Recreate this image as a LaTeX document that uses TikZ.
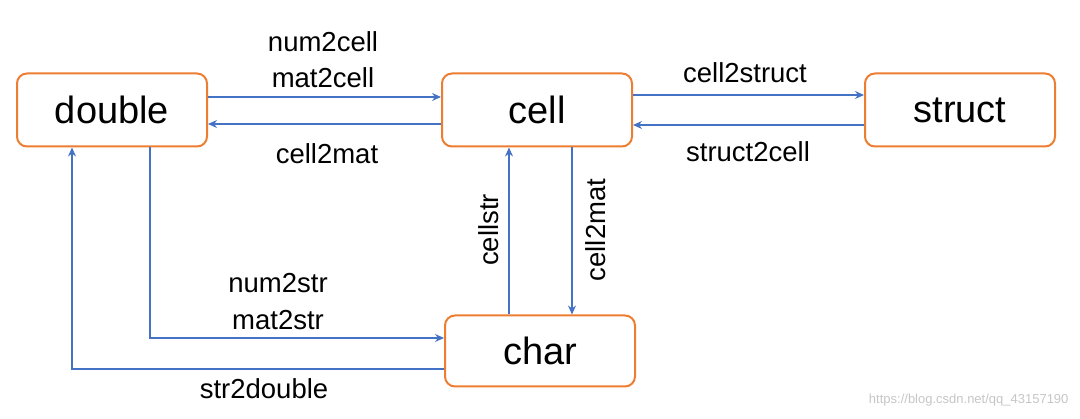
\documentclass[tikz,border=0pt]{standalone}
\usepackage{fontspec}
\setmainfont{Liberation Sans}
\usetikzlibrary{arrows.meta}
\definecolor{bor}{RGB}{237,125,49}
\definecolor{arr}{RGB}{68,114,196}
\begin{document}
\begin{tikzpicture}[x=1pt,y=-1pt,
 box/.style={draw=bor,line width=2pt,rounded corners=10pt,fill=white,minimum width=190pt,minimum height=73pt,font=\fontsize{38}{42}\selectfont},
 con/.style={draw=arr,line width=1.2pt,-{Stealth[length=9pt,width=8pt]}},
 lab/.style={font=\fontsize{27.5}{30}\selectfont}]
\useasboundingbox (0,0) rectangle (1080,419);
\node[box] (double) at (112,110) {double};
\node[box] (cell) at (537,110) {cell};
\node[box] (struct) at (960,110) {struct};
\node[box,minimum height=71pt] (char) at (540,351) {char};
\draw[con] (double.east |- 0,97) -- (cell.west |- 0,97);
\draw[con] (cell.west |- 0,124) -- (double.east |- 0,124);
\draw[con] (cell.east |- 0,95) -- (struct.west |- 0,95);
\draw[con] (struct.west |- 0,125) -- (cell.east |- 0,125);
\draw[con] (double.south -| 150,0) |- (char.west |- 0,338);
\draw[con] (char.west |- 0,369) -| (double.south -| 72,0);
\draw[con] (char.north -| 509,0) -- (cell.south -| 509,0);
\draw[con] (cell.south -| 572,0) -- (char.north -| 572,0);
\node[lab] (l1) at (323,42) {num2cell};
\node[lab] (l2) at (323,78) {mat2cell};
\node[lab] (l3) at (327,154) {cell2mat};
\node[lab] (l4) at (745,73) {cell2struct};
\node[lab] (l5) at (748,152) {struct2cell};
\node[lab] (l6) at (278,283) {num2str};
\node[lab] (l7) at (278,320) {mat2str};
\node[lab] (l8) at (264,389) {str2double};
\node[lab,rotate=90] (l9) at (489,230) {cellstr};
\node[lab,rotate=90] (l10) at (596,230) {cell2mat};
\node[font=\fontsize{13}{15}\selectfont,text=gray!45,anchor=east] (wm) at (1072,400) {https://blog.csdn.net/qq\_43157190};
\end{tikzpicture}
\end{document}
